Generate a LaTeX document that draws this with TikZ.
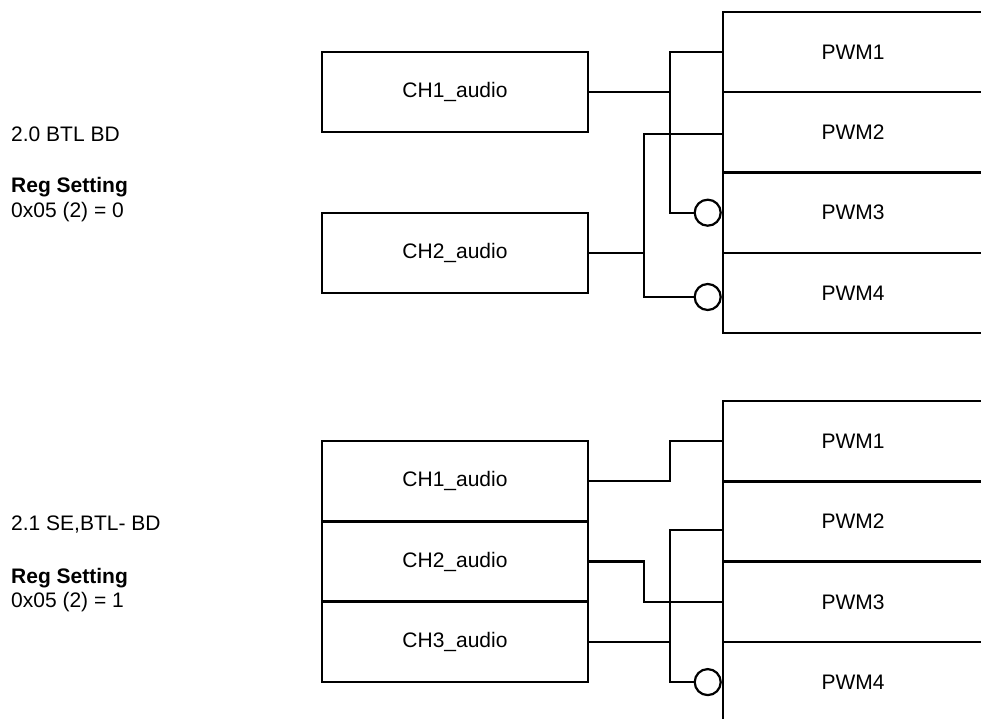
\documentclass[tikz,border=0pt]{standalone}
\usepackage{fontspec}
\setmainfont{Liberation Sans}
\usetikzlibrary{positioning}

\tikzset{
  chbox/.style={draw, line width=2.4pt, minimum width=266pt, minimum height=80.3pt, inner sep=0pt, font=\fontsize{21}{24}\selectfont},
  pwmbox/.style={draw, line width=2.4pt, minimum width=260pt, minimum height=80.3pt, inner sep=0pt, font=\fontsize{21}{24}\selectfont},
  wire/.style={line width=2.2pt},
  bubble/.style={draw, circle, line width=2.2pt, fill=white, minimum size=26pt, inner sep=0pt},
  note/.style={anchor=base west, inner sep=0pt, font=\fontsize{21}{24}\selectfont}
}

\begin{document}
\begin{tikzpicture}[x=1pt, y=-1pt]
    \useasboundingbox (0,0) rectangle (981,719);
    \clip (0,0) rectangle (981,719);

    % Mode 2.0: labels
    \node[note] (mode20) at (11,142) {2.0 BTL BD};
    \node[note] (reg20) at (11,193) {\textbf{Reg Setting}};
    \node[note] (val20) at (11,218) {0x05 (2) = 0};

    % Mode 2.0: channels and outputs
    \node[chbox] (ch1a) at (455,92) {CH1\_audio};
    \node[chbox] (ch2a) at (455,253) {CH2\_audio};
    \node[pwmbox] (pwm1a) at (853,52.1) {PWM1};
    \node[pwmbox] (pwm2a) at (853,132.4) {PWM2};
    \node[pwmbox] (pwm3a) at (853,212.7) {PWM3};
    \node[pwmbox] (pwm4a) at (853,293.0) {PWM4};
    \node[bubble, left=0pt of pwm3a.west] (inv3a) {};
    \node[bubble, left=0pt of pwm4a.west, yshift=-4pt] (inv4a) {};

    % Mode 2.0: wiring
    \draw[wire] (ch1a.east) -- ++(81,0) coordinate (j1a);
    \draw[wire] (pwm1a.west) -| (j1a) |- (inv3a.west);
    \draw[wire] (ch2a.east) -- ++(55,0) coordinate (j2a);
    \draw[wire] ([yshift=-1.5pt]pwm2a.west) -| (j2a) |- (inv4a.west);

    % Mode 2.1: labels
    \node[note] (mode21) at (11,530) {2.1 SE,BTL- BD};
    \node[note] (reg21) at (11,583) {\textbf{Reg Setting}};
    \node[note] (val21) at (11,607.5) {0x05 (2) = 1};

    % Mode 2.1: channels and outputs
    \node[chbox] (ch1b) at (455,481.2) {CH1\_audio};
    \node[chbox] (ch2b) at (455,561.5) {CH2\_audio};
    \node[chbox] (ch3b) at (455,641.8) {CH3\_audio};
    \node[pwmbox] (pwm1b) at (853,441.2) {PWM1};
    \node[pwmbox] (pwm2b) at (853,521.5) {PWM2};
    \node[pwmbox] (pwm3b) at (853,601.8) {PWM3};
    \node[pwmbox] (pwm4b) at (853,682.1) {PWM4};
    \node[bubble, left=0pt of pwm4b.west] (inv4b) {};

    % Mode 2.1: wiring
    \draw[wire] (ch1b.east) -- ++(81,0) |- (pwm1b.west);
    \draw[wire] (ch2b.east) -- ++(55,0) |- (pwm3b.west);
    \draw[wire] (ch3b.east) -- ++(81,0) coordinate (j3b);
    \draw[wire] ([yshift=-8.5pt]pwm2b.west) -| (j3b) |- (inv4b.west);
\end{tikzpicture}
\end{document}
